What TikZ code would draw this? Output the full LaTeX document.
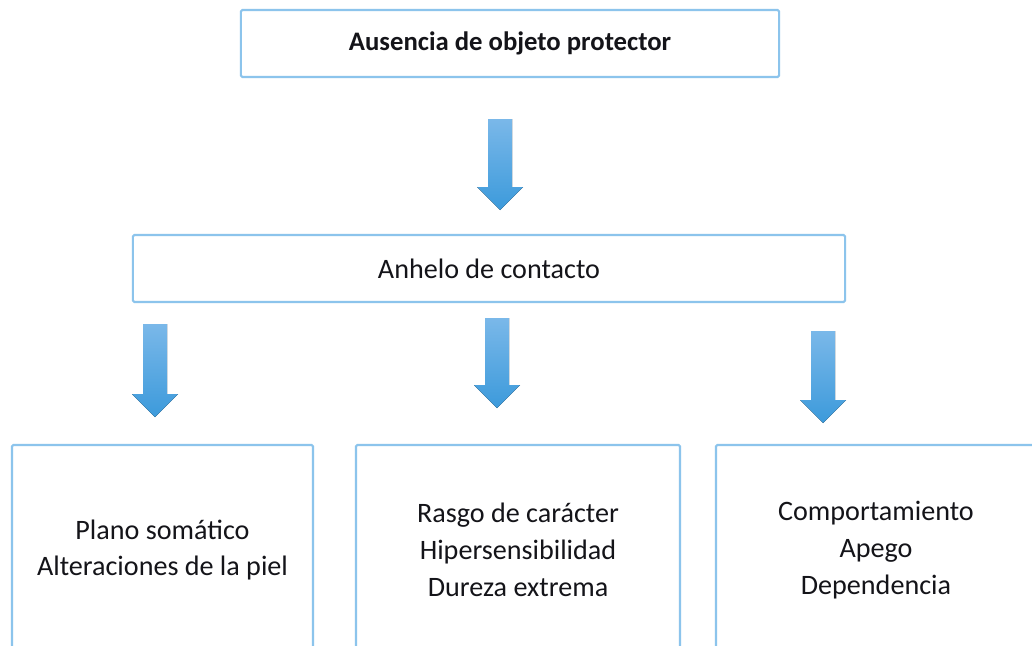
\documentclass[tikz,border=0pt]{standalone}
\usepackage{fontspec}
\setmainfont{Carlito}
\usetikzlibrary{calc}

\definecolor{bordeazul}{RGB}{140,196,236}
\definecolor{flechaclara}{RGB}{122,184,233}
\definecolor{flechaoscura}{RGB}{60,154,219}
\definecolor{textocaja}{RGB}{20,20,25}

% flecha gruesa hacia abajo entre dos coordenadas
\newcommand{\flechabaja}[2]{%
  \fill[flecha] ($(#1)+(-12,0)$) -- ($(#1)+(12,0)$) -- ($(#2)+(12,-23)$) -- ($(#2)+(23,-23)$)
    -- (#2) -- ($(#2)+(-23,-23)$) -- ($(#2)+(-12,-23)$) -- cycle;}

\begin{document}
\begin{tikzpicture}[x=0.025cm, y=-0.025cm,
    caja/.style={draw=bordeazul, line width=1.5pt, rounded corners=1pt, fill=white,
      align=center, inner sep=0pt, text=textocaja},
    flecha/.style={top color=flechaclara, bottom color=flechaoscura, draw=none}]
    \useasboundingbox[fill=white] (0,0) rectangle (1032,645);

    \node[caja, minimum width=13.45cm, minimum height=1.675cm, text depth=0.12cm,
      font=\bfseries\fontsize{19}{22}\selectfont] (ausencia) at (510,43.5) {Ausencia de objeto protector};
    \node[caja, minimum width=17.8cm, minimum height=1.675cm,
      font=\fontsize{20}{24}\selectfont] (anhelo) at (489,268.5) {Anhelo de contacto};

    \node[caja, minimum width=7.525cm, minimum height=5.25cm,
      font=\fontsize{20}{26.3}\selectfont] (plano) at (162.5,550) {Plano somático\\Alteraciones de la piel};
    \node[caja, minimum width=8.1cm, minimum height=5.25cm,
      font=\fontsize{20}{26.3}\selectfont] (rasgo) at (518,550) {Rasgo de carácter\\Hipersensibilidad\\Dureza extrema};
    \node[caja, minimum width=8cm, minimum height=5.25cm,
      font=\fontsize{20}{26.3}\selectfont] (conducta) at (876,550) {Comportamiento\\Apego\\Dependencia};

    \coordinate (f0a) at (500,119);
    \coordinate (f0b) at (500,210);
    \coordinate (f1a) at (155,324);
    \coordinate (f1b) at (155,417);
    \coordinate (f2a) at (497,318);
    \coordinate (f2b) at (497,408);
    \coordinate (f3a) at (823,331);
    \coordinate (f3b) at (823,423);

    \flechabaja{f0a}{f0b}
    \flechabaja{f1a}{f1b}
    \flechabaja{f2a}{f2b}
    \flechabaja{f3a}{f3b}
\end{tikzpicture}
\end{document}
